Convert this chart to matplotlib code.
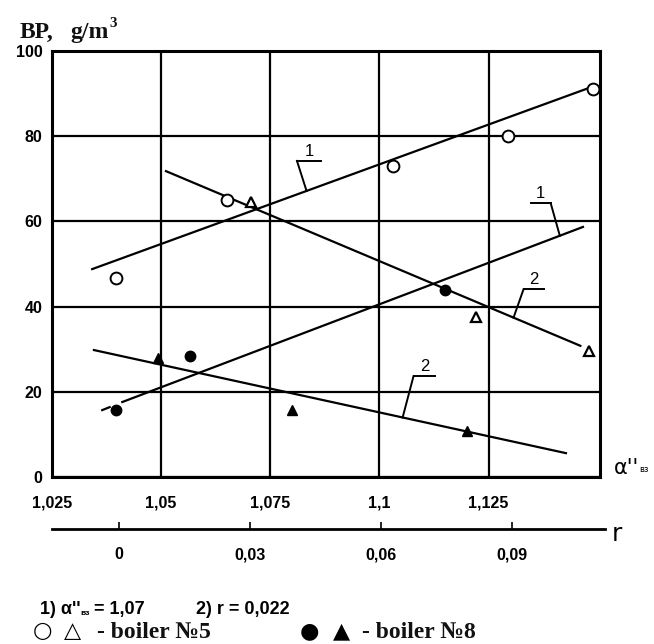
import numpy as np
import matplotlib
matplotlib.use('Agg')
import matplotlib.pyplot as plt

# boiler 5 (open markers) and boiler 8 (filled markers)
circ5_x = [1.0396, 1.065, 1.103, 1.1295, 1.149]
circ5_y = [46.7, 65.0, 73.0, 80.0, 91.0]
tri5_x = [1.0705, 1.122, 1.148]
tri5_y = [64.5, 37.5, 29.5]
circ8_x = [1.0397, 1.0567, 1.115]
circ8_y = [15.7, 28.3, 43.9]
tri8_x = [1.0493, 1.080, 1.120]
tri8_y = [28.0, 15.7, 10.8]

# fitted lines (ends)
fit1_open_x = [1.0342, 1.1479]
fit1_open_y = [48.8, 91.3]
fit2_open_x = [1.0511, 1.146]
fit2_open_y = [71.8, 30.8]
fit1_fill_x = [1.0411, 1.1466]
fit1_fill_y = [17.6, 58.7]
fit2_fill_x = [1.0346, 1.1427]
fit2_fill_y = [29.8, 5.6]

x_ticks = [1.025, 1.05, 1.075, 1.1, 1.125]
x_labels = ['1,025', '1,05', '1,075', '1,1', '1,125']
y_ticks = [0, 20, 40, 60, 80, 100]
r_ticks = [0, 0.03, 0.06, 0.09]
r_labels = ['0', '0,03', '0,06', '0,09']

W, H = 654, 644
fig = plt.figure(figsize=(W/100, H/100), dpi=100)

def px(x0, y0, x1, y1):
    return [x0/W, 1 - y1/H, (x1-x0)/W, (y1-y0)/H]

tickfont = dict(family='Liberation Sans', weight='bold', size=11.5)

ax = fig.add_axes(px(52, 51, 600, 477))
ax.set_xlim(1.025, 1.1505)
ax.set_ylim(0, 100)
ax.set_xticks(x_ticks)
ax.set_xticklabels(x_labels, **tickfont)
ax.set_yticks(y_ticks)
ax.set_yticklabels([str(v) for v in y_ticks], **tickfont)
ax.tick_params(length=0, pad=13)
ax.tick_params(axis='y', pad=7)
ax.grid(True, color='black', linewidth=1.6)
for s in ax.spines.values():
    s.set_linewidth(2.2)

lw = 1.6
ax.plot(fit1_open_x, fit1_open_y, color='black', lw=lw)
ax.plot(fit2_open_x, fit2_open_y, color='black', lw=lw)
ax.plot(fit1_fill_x, fit1_fill_y, color='black', lw=lw)
ax.plot([1.0365, 1.0382], [15.7, 16.4], color='black', lw=lw)
ax.plot(fit2_fill_x, fit2_fill_y, color='black', lw=lw)

ax.plot(circ5_x, circ5_y, 'o', ms=8.5, mfc='white', mec='black', mew=1.4, ls='none', clip_on=False, zorder=5)
ax.plot(tri5_x, tri5_y, '^', ms=7, mfc='white', mec='black', mew=1.6, ls='none', clip_on=False, zorder=5)
ax.plot(circ8_x, circ8_y, 'o', ms=7.5, color='black', ls='none', zorder=5)
ax.plot(tri8_x, tri8_y, '^', ms=7.5, color='black', ls='none', zorder=5)

# curve labels: text, underline x0, x1, y, leader side, target x on the line
labels = [('1', 1.0811, 1.0866, 74.2, 'left', 1.0833, fit1_open_x, fit1_open_y),
          ('1', 1.1346, 1.1392, 64.3, 'right', 1.1413, fit1_fill_x, fit1_fill_y),
          ('2', 1.1330, 1.1376, 44.1, 'left', 1.1307, fit2_open_x, fit2_open_y),
          ('2', 1.1078, 1.1128, 23.7, 'left', 1.1053, fit2_fill_x, fit2_fill_y)]
for t, ux0, ux1, uy, side, tx, xs, ys in labels:
    ax.text((ux0 + ux1) / 2, uy + 0.4, t, ha='center', va='bottom', fontsize=12,
            family='Liberation Sans')
    ax.plot([ux0, ux1], [uy, uy], color='black', lw=1.4)
    ty = np.interp(tx, xs, ys)
    sx = ux0 if side == 'left' else ux1
    ax.plot([sx, tx], [uy, ty], color='black', lw=1.4)

# axis names
fig.text(20/W, 1 - 38/H, 'BP,', family='Liberation Serif', weight='bold', size=17, color='#111')
fig.text(70/W, 1 - 38/H, 'g/m', family='Liberation Serif', weight='bold', size=17, color='#111')
fig.text(109/W, 1 - 27/H, '3', family='Liberation Serif', weight='bold', size=11, color='#111')
fig.text(614/W, 1 - 474/H, "α''", family='DejaVu Sans', size=15)
fig.text(639/W, 1 - 472/H, 'вз', family='DejaVu Sans', size=6)

# secondary r axis
ax2 = fig.add_axes(px(52, 500, 605, 529))
ax2.set_xlim(-0.0153, 0.1113)
ax2.set_ylim(0, 1)
ax2.patch.set_alpha(0)
for k in ['left', 'right', 'top']:
    ax2.spines[k].set_visible(False)
ax2.spines['bottom'].set_linewidth(2.0)
ax2.set_yticks([])
ax2.set_xticks(r_ticks)
ax2.set_xticklabels(r_labels, **tickfont)
ax2.tick_params(axis='x', direction='in', length=5, width=1.2, pad=13)
fig.text(612/W, 1 - 541/H, 'r', family='DejaVu Sans', size=18)

# footnotes
fn = dict(family='Liberation Sans', weight='bold', size=13)
fig.text(40/W, 1 - 614/H, "1) α''", **fn)
fig.text(80/W, 1 - 615/H, 'вз', family='Liberation Sans', weight='bold', size=6)
fig.text(94/W, 1 - 614/H, '= 1,07', **fn)
fig.text(196/W, 1 - 614/H, '2) r = 0,022', **fn)
sym = dict(family='DejaVu Sans', size=16, va='center')
fig.text(33/W, 1 - 631/H, '○', **sym)
fig.text(64/W, 1 - 631/H, '△', **sym)
fig.text(97/W, 1 - 638/H, '- boiler №5', family=['Liberation Serif', 'DejaVu Serif'], weight='bold', size=17, color='#111')
fig.text(300/W, 1 - 631/H, '●', **sym)
fig.text(333/W, 1 - 631/H, '▲', **sym)
fig.text(362/W, 1 - 638/H, '- boiler №8', family=['Liberation Serif', 'DejaVu Serif'], weight='bold', size=17, color='#111')

fig.savefig('out.png', dpi=100)
